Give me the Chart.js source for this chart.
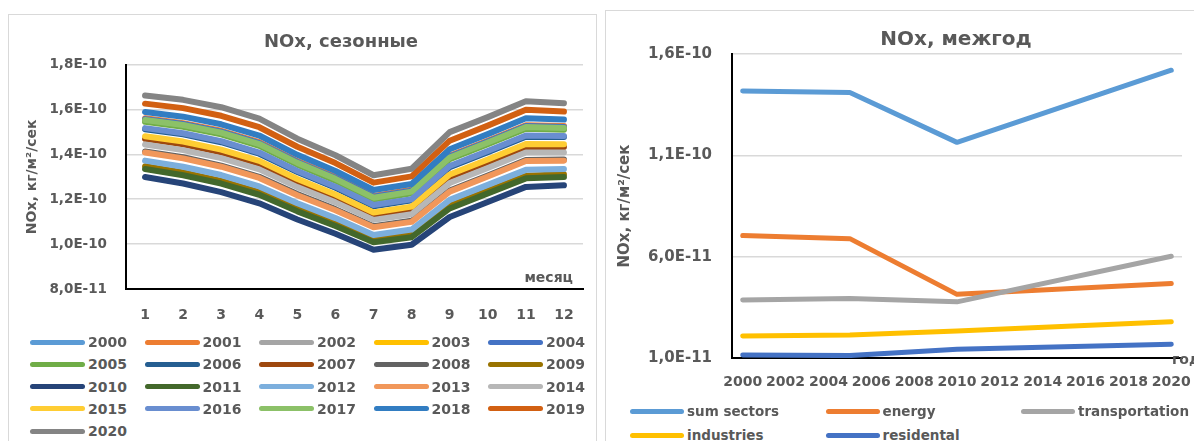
<!DOCTYPE html>
<html>
<head>
<meta charset="utf-8">
<title>NOx</title>
<script src="https://cdn.jsdelivr.net/npm/chart.js@4.4.1/dist/chart.umd.min.js"></script>
<style>
  html, body { margin: 0; padding: 0; background: #fff; width: 1194px; height: 441px; overflow: hidden; }
  .panel { position: absolute; border: 1px solid #d9d9d9; box-sizing: border-box; background: #fff; }
  #p1 { left: 8px; top: 14px; width: 589px; height: 470px; }
  #p2 { left: 605px; top: 10px; width: 640px; height: 470px; }
  canvas { position: absolute; }
  #c1 { left: 8px; top: 14px; }
  #c2 { left: 605px; top: 10px; }
  .item { position: absolute; height: 20px; display: flex; align-items: center; white-space: nowrap;
          font-family: "DejaVu Sans", sans-serif; font-weight: bold; color: #595959; }
  .bar { display: inline-block; height: 5px; border-radius: 3px; margin-right: 3px; }
</style>
</head>
<body>
<div class="panel" id="p1"></div>
<div class="panel" id="p2"></div>
<canvas id="c1" width="666" height="320"></canvas>
<canvas id="c2" width="702" height="408"></canvas>
<div id="leg1"></div>
<div id="leg2"></div>
<script>
// ---- seasonal NOx by month, one series per year (units of 1e-10 kg/m²/s) ----
const months = ['1', '2', '3', '4', '5', '6', '7', '8', '9', '10', '11', '12'];
const seasonYears = ['2000', '2001', '2002', '2003', '2004', '2005', '2006', '2007', '2008', '2009', '2010',
                     '2011', '2012', '2013', '2014', '2015', '2016', '2017', '2018', '2019', '2020'];
const s2000 = [1.555, 1.533, 1.499, 1.448, 1.364, 1.293, 1.209, 1.236, 1.388, 1.455, 1.524, 1.520];
const s2001 = [1.561, 1.539, 1.505, 1.454, 1.370, 1.299, 1.215, 1.242, 1.394, 1.461, 1.530, 1.526];
const s2002 = [1.553, 1.530, 1.496, 1.445, 1.361, 1.290, 1.206, 1.233, 1.385, 1.452, 1.521, 1.517];
const s2003 = [1.551, 1.529, 1.495, 1.444, 1.360, 1.289, 1.205, 1.232, 1.384, 1.451, 1.520, 1.516];
const s2004 = [1.557, 1.535, 1.501, 1.450, 1.366, 1.295, 1.211, 1.238, 1.390, 1.457, 1.526, 1.522];
const s2005 = [1.545, 1.523, 1.489, 1.438, 1.354, 1.283, 1.199, 1.226, 1.378, 1.445, 1.514, 1.510];
const s2006 = [1.512, 1.489, 1.454, 1.403, 1.321, 1.251, 1.169, 1.195, 1.343, 1.410, 1.479, 1.477];
const s2007 = [1.469, 1.445, 1.409, 1.359, 1.278, 1.209, 1.129, 1.155, 1.298, 1.365, 1.434, 1.433];
const s2008 = [1.413, 1.387, 1.350, 1.300, 1.223, 1.156, 1.080, 1.104, 1.239, 1.306, 1.375, 1.377];
const s2009 = [1.347, 1.319, 1.282, 1.232, 1.158, 1.093, 1.020, 1.043, 1.171, 1.238, 1.305, 1.311];
const s2010 = [1.299, 1.270, 1.232, 1.182, 1.110, 1.046, 0.975, 0.997, 1.121, 1.188, 1.255, 1.262];
const s2011 = [1.335, 1.307, 1.270, 1.220, 1.146, 1.081, 1.008, 1.031, 1.159, 1.226, 1.293, 1.299];
const s2012 = [1.372, 1.345, 1.308, 1.257, 1.182, 1.116, 1.041, 1.065, 1.197, 1.264, 1.331, 1.335];
const s2013 = [1.408, 1.382, 1.345, 1.295, 1.218, 1.151, 1.075, 1.099, 1.234, 1.301, 1.370, 1.372];
const s2014 = [1.444, 1.419, 1.383, 1.333, 1.254, 1.186, 1.108, 1.133, 1.272, 1.339, 1.408, 1.408];
const s2015 = [1.481, 1.457, 1.421, 1.371, 1.290, 1.221, 1.141, 1.167, 1.310, 1.377, 1.446, 1.445];
const s2016 = [1.517, 1.494, 1.459, 1.408, 1.326, 1.256, 1.174, 1.200, 1.348, 1.415, 1.484, 1.482];
const s2017 = [1.553, 1.531, 1.497, 1.446, 1.362, 1.291, 1.207, 1.234, 1.386, 1.453, 1.522, 1.518];
const s2018 = [1.589, 1.568, 1.534, 1.484, 1.398, 1.326, 1.241, 1.268, 1.423, 1.490, 1.561, 1.555];
const s2019 = [1.626, 1.606, 1.572, 1.521, 1.434, 1.361, 1.274, 1.302, 1.461, 1.528, 1.599, 1.591];
const s2020 = [1.662, 1.643, 1.610, 1.559, 1.470, 1.396, 1.307, 1.336, 1.499, 1.566, 1.637, 1.628];
const seasonal = [s2000, s2001, s2002, s2003, s2004, s2005, s2006, s2007, s2008, s2009, s2010,
                  s2011, s2012, s2013, s2014, s2015, s2016, s2017, s2018, s2019, s2020];
const seasonColors = ['#5B9BD5', '#ED7D31', '#A5A5A5', '#FFC000', '#4472C4', '#70AD47', '#255E91',
                      '#9E480E', '#636363', '#997300', '#264478', '#43682B', '#7CAFDD', '#F1975A',
                      '#B7B7B7', '#FFCD33', '#698ED0', '#8CC168', '#327DC2', '#D26012', '#848484'];
const seasonTicks = { min: 0.8, max: 1.8, step: 0.2 };

// ---- inter-annual NOx by sector (units of 1e-10 kg/m²/s) ----
const years = ['2000', '2001', '2002', '2003', '2004', '2005', '2006', '2007', '2008', '2009', '2010',
               '2011', '2012', '2013', '2014', '2015', '2016', '2017', '2018', '2019', '2020'];
const sectorNames = ['sum sectors', 'energy', 'transportation', 'industries', 'residental'];
const sumSectors     = [1.418, null, null, null, null, 1.410, null, null, null, null, 1.164, null, null, null, null, null, null, null, null, null, 1.520];
const energy         = [0.704, null, null, null, null, 0.689, null, null, null, null, 0.414, null, null, null, null, null, null, null, null, null, 0.468];
const transportation = [0.386, null, null, null, null, 0.394, null, null, null, null, 0.377, null, null, null, null, null, null, null, null, null, 0.602];
const industries     = [0.209, null, null, null, null, 0.214, null, null, null, null, 0.233, null, null, null, null, null, null, null, null, null, 0.279];
const residental     = [0.115, null, null, null, null, 0.112, null, null, null, null, 0.143, null, null, null, null, null, null, null, null, null, 0.168];
const sectorValues = [sumSectors, energy, transportation, industries, residental];
const sectorColors = ['#5B9BD5', '#ED7D31', '#A5A5A5', '#FFC000', '#4472C4'];
const yearTicks = { min: 0.1, max: 1.6, step: 0.5 };

const FONT = '"DejaVu Sans", sans-serif';
const TEXT = '#595959';
Chart.defaults.font.family = FONT;
Chart.defaults.color = TEXT;

// values are stored in 1e-10 units; print them as e.g. "1,8E-10"
function sci(v) {
  return (v * 1e-10).toExponential(1).replace('.', ',').replace('e', 'E');
}

// small axis name written at the end of the category axis
const axisName = {
  id: 'axisName',
  afterDraw(chart, args, opts) {
    const { ctx, chartArea } = chart;
    ctx.save();
    ctx.font = 'bold ' + opts.size + 'px ' + FONT;
    ctx.fillStyle = TEXT;
    ctx.textAlign = opts.align;
    ctx.textBaseline = 'middle';
    ctx.fillText(opts.text, chartArea.right + opts.dx, chartArea.bottom + opts.dy);
    ctx.restore();
  }
};

function bold(size) { return { family: FONT, size: size, weight: 'bold' }; }

// seasonal chart
new Chart(document.getElementById('c1'), {
  type: 'line',
  data: {
    labels: months,
    datasets: seasonYears.map((y, i) => ({
      label: y, data: seasonal[i],
      borderColor: seasonColors[i], backgroundColor: seasonColors[i],
      borderWidth: 6, pointRadius: 0, tension: 0,
      borderCapStyle: 'round', borderJoinStyle: 'round',
      order: seasonYears.length - 1 - i
    }))
  },
  options: {
    responsive: false, animation: false, devicePixelRatio: 1,
    events: [],
    layout: { padding: 0 },
    plugins: {
      legend: { display: false },
      tooltip: { enabled: false },
      title: { display: true, text: 'NOx, сезонные', color: TEXT, font: bold(18), padding: { top: 18, bottom: 11 } },
      axisName: { text: 'месяц', size: 14, align: 'right', dx: -10, dy: -11 }
    },
    scales: {
      x: {
        type: 'category', offset: true,
        grid: { display: false, drawTicks: false },
        border: { display: true, color: '#000', width: 2 },
        ticks: { font: bold(14), padding: 18, maxRotation: 0, autoSkip: false },
        afterFit(s) { s.height = 45; }
      },
      y: {
        type: 'linear', min: seasonTicks.min, max: seasonTicks.max,
        grid: { color: '#d9d9d9', lineWidth: 1.5, drawTicks: false },
        border: { display: true, color: '#000', width: 2 },
        ticks: { stepSize: seasonTicks.step, callback: sci, font: bold(13.5), padding: 19 },
        title: { display: true, text: 'NOx, кг/м²/сек', font: bold(14), color: TEXT, padding: { top: 15.5, bottom: 0 } },
        afterFit(s) { s.width = 118; }
      },
      pad: {
        type: 'linear', axis: 'y', position: 'right', display: true,
        ticks: { display: false }, grid: { display: false, drawTicks: false }, border: { display: false },
        afterFit(s) { s.width = 91; }
      }
    }
  },
  plugins: [axisName]
});

// inter-annual chart
new Chart(document.getElementById('c2'), {
  type: 'line',
  data: {
    labels: years,
    datasets: sectorNames.map((n, i) => ({
      label: n, data: sectorValues[i], spanGaps: true,
      borderColor: sectorColors[i], backgroundColor: sectorColors[i],
      borderWidth: 5, pointRadius: 0, tension: 0,
      borderCapStyle: 'round', borderJoinStyle: 'round',
      order: sectorNames.length - 1 - i
    }))
  },
  options: {
    responsive: false, animation: false, devicePixelRatio: 1,
    events: [],
    layout: { padding: 0 },
    plugins: {
      legend: { display: false },
      tooltip: { enabled: false },
      title: { display: true, text: 'NOx, межгод', color: TEXT, font: bold(20), padding: { top: 18, bottom: 2 } },
      axisName: { text: 'год', size: 14, align: 'left', dx: -10, dy: 2 }
    },
    scales: {
      x: {
        type: 'category', offset: true,
        grid: { display: false, drawTicks: false },
        border: { display: true, color: '#000', width: 2 },
        ticks: {
          font: bold(14), padding: 16, maxRotation: 0, autoSkip: false,
          callback(v, i) { return i % 2 === 0 ? this.getLabelForValue(v) : ''; }
        },
        afterFit(s) { s.height = 60; }
      },
      y: {
        type: 'linear', min: yearTicks.min, max: yearTicks.max,
        grid: { color: '#d9d9d9', lineWidth: 1.5, drawTicks: false },
        border: { display: true, color: '#000', width: 2 },
        ticks: { stepSize: yearTicks.step, callback: sci, font: bold(15), padding: 20 },
        title: { display: true, text: 'NOx, кг/м²/сек', font: bold(15), color: TEXT, padding: { top: 11, bottom: 0 } },
        afterFit(s) { s.width = 127; }
      },
      pad: {
        type: 'linear', axis: 'y', position: 'right', display: true,
        ticks: { display: false }, grid: { display: false, drawTicks: false }, border: { display: false },
        afterFit(s) { s.width = 125; }
      }
    }
  },
  plugins: [axisName]
});

// legends laid out in fixed columns
function buildLegend(host, names, colors, x0, dx, y0, dy, cols, barW, size) {
  const el = document.getElementById(host);
  names.forEach((n, i) => {
    const item = document.createElement('div');
    item.className = 'item';
    item.style.left = (x0 + (i % cols) * dx) + 'px';
    item.style.top = (y0 + Math.floor(i / cols) * dy - 10) + 'px';
    item.style.fontSize = size + 'px';
    const bar = document.createElement('span');
    bar.className = 'bar';
    bar.style.width = barW + 'px';
    bar.style.background = colors[i];
    const txt = document.createElement('span');
    txt.textContent = n;
    item.appendChild(bar);
    item.appendChild(txt);
    el.appendChild(item);
  });
}
buildLegend('leg1', seasonYears, seasonColors, 30, 114.5, 342, 22.3, 5, 55, 14);
buildLegend('leg2', sectorNames, sectorColors, 630, 195.5, 411, 24, 3, 54, 13.5);
</script>
</body>
</html>
